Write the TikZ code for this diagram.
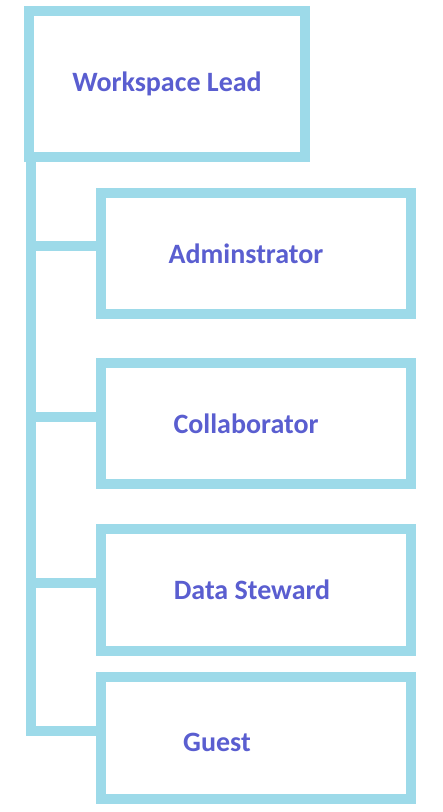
\documentclass[tikz,border=0pt]{standalone}
\usepackage{fontspec}
\setmainfont{Carlito}
\usepackage{tikz}
\usetikzlibrary{positioning}
\definecolor{roleline}{HTML}{9DDAE9}
\definecolor{roletext}{HTML}{5A5ED0}

\begin{document}
\begin{tikzpicture}[x=0.5pt,y=-0.5pt,
	rolebox/.style={draw=roleline,line width=5pt,fill=white,inner sep=0pt,outer sep=0pt,
		minimum width=155pt,minimum height=60.5pt,
		font=\fontsize{14}{16}\selectfont\bfseries,text=roletext},
	link/.style={draw=roleline,line width=5pt,line join=miter}
	]
	\useasboundingbox (0,0) rectangle (443,812);
	\node[rolebox,minimum width=138pt,minimum height=73pt] (lead) at (167,84) {\raisebox{2pt}{Workspace Lead}};
	\node[rolebox] (admin) at (256,253.5) {\hspace*{-10pt}Adminstrator};
	\node[rolebox] (collab) at (256,423.5) {\hspace*{-10pt}Collaborator};
	\node[rolebox,minimum height=61pt] (steward) at (256,590) {\hspace*{-4pt}Data Steward};
	\node[rolebox,minimum height=61pt] (guest) at (256,738) {};
	\node[font=\fontsize{14}{16}\selectfont\bfseries,text=roletext] (guesttext) at ([xshift=-19.5pt,yshift=-2pt]guest.center) {Guest};
	\coordinate (spine) at ([xshift=1pt]lead.south west);
	\draw[link] (spine) |- ([yshift=3.5pt]guest.west);
	\foreach \r in {admin,collab,steward}
		\draw[link] ([yshift=3.5pt]\r.west) -- ++(-35pt,0);
\end{tikzpicture}
\end{document}
